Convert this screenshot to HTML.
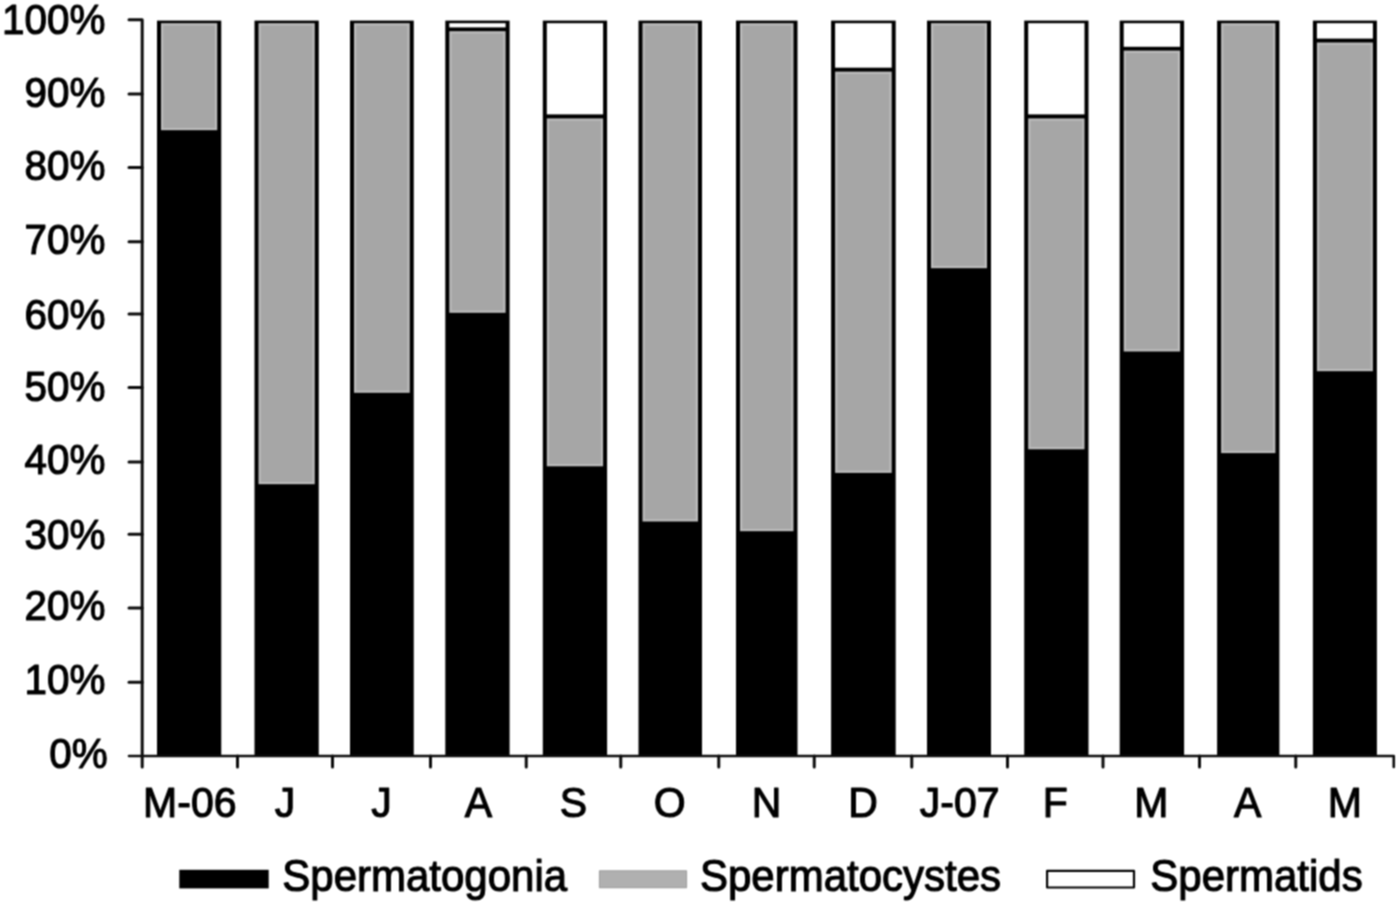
<!DOCTYPE html>
<html><head><meta charset="utf-8"><title>Chart</title>
<style>html,body{margin:0;padding:0;background:#fff;overflow:hidden}svg{display:block}</style>
</head><body>
<svg width="1400" height="905" viewBox="0 0 1400 905">
<defs><filter id="soft" filterUnits="userSpaceOnUse" x="0" y="0" width="1400" height="905" color-interpolation-filters="sRGB"><feConvolveMatrix order="3" kernelMatrix="1 2 1 2 4 2 1 2 1" divisor="16" edgeMode="duplicate" preserveAlpha="false"/></filter></defs>
<rect width="1400" height="905" fill="#fff"/>
<g filter="url(#soft)">
<rect x="157" y="20.6" width="64.25" height="736.00" fill="#000"/>
<rect x="161.00" y="23.2" width="56.25" height="107.00" fill="#bbbbbb"/>
<rect x="163.30" y="25.50" width="51.65" height="102.40" fill="#a6a6a6"/>
<rect x="254.5" y="20.6" width="64.25" height="736.00" fill="#000"/>
<rect x="258.50" y="23.2" width="56.25" height="461.00" fill="#bbbbbb"/>
<rect x="260.80" y="25.50" width="51.65" height="456.40" fill="#a6a6a6"/>
<rect x="350" y="20.6" width="63.75" height="736.00" fill="#000"/>
<rect x="354.00" y="23.2" width="55.75" height="369.60" fill="#bbbbbb"/>
<rect x="356.30" y="25.50" width="51.15" height="365.00" fill="#a6a6a6"/>
<rect x="445.3" y="20.6" width="64.30" height="736.00" fill="#000"/>
<rect x="449.30" y="23.2" width="56.30" height="4.20" fill="#fff"/>
<rect x="449.30" y="31.2" width="56.30" height="281.60" fill="#bbbbbb"/>
<rect x="451.60" y="33.50" width="51.70" height="277.00" fill="#a6a6a6"/>
<rect x="542.8" y="20.6" width="64.30" height="736.00" fill="#000"/>
<rect x="546.80" y="23.2" width="56.30" height="91.20" fill="#fff"/>
<rect x="546.80" y="118.4" width="56.30" height="347.90" fill="#bbbbbb"/>
<rect x="549.10" y="120.70" width="51.70" height="343.30" fill="#a6a6a6"/>
<rect x="638.5" y="20.6" width="63.50" height="736.00" fill="#000"/>
<rect x="642.50" y="23.2" width="55.50" height="498.30" fill="#bbbbbb"/>
<rect x="644.80" y="25.50" width="50.90" height="493.70" fill="#a6a6a6"/>
<rect x="736" y="20.6" width="61.50" height="736.00" fill="#000"/>
<rect x="740.00" y="23.2" width="53.50" height="508.00" fill="#bbbbbb"/>
<rect x="742.30" y="25.50" width="48.90" height="503.40" fill="#a6a6a6"/>
<rect x="831.1" y="20.6" width="64.60" height="736.00" fill="#000"/>
<rect x="835.10" y="23.2" width="56.60" height="44.50" fill="#fff"/>
<rect x="835.10" y="71.6" width="56.60" height="401.30" fill="#bbbbbb"/>
<rect x="837.40" y="73.90" width="52.00" height="396.70" fill="#a6a6a6"/>
<rect x="927" y="20.6" width="64.00" height="736.00" fill="#000"/>
<rect x="931.00" y="23.2" width="56.00" height="245.00" fill="#bbbbbb"/>
<rect x="933.30" y="25.50" width="51.40" height="240.40" fill="#a6a6a6"/>
<rect x="1024.2" y="20.6" width="64.30" height="736.00" fill="#000"/>
<rect x="1028.20" y="23.2" width="56.30" height="91.20" fill="#fff"/>
<rect x="1028.20" y="118.4" width="56.30" height="330.90" fill="#bbbbbb"/>
<rect x="1030.50" y="120.70" width="51.70" height="326.30" fill="#a6a6a6"/>
<rect x="1119.7" y="20.6" width="64.40" height="736.00" fill="#000"/>
<rect x="1123.70" y="23.2" width="56.40" height="23.60" fill="#fff"/>
<rect x="1123.70" y="50.6" width="56.40" height="300.90" fill="#bbbbbb"/>
<rect x="1126.00" y="52.90" width="51.80" height="296.30" fill="#a6a6a6"/>
<rect x="1217.1" y="20.6" width="62.30" height="736.00" fill="#000"/>
<rect x="1221.10" y="23.2" width="54.30" height="429.90" fill="#bbbbbb"/>
<rect x="1223.40" y="25.50" width="49.70" height="425.30" fill="#a6a6a6"/>
<rect x="1312.9" y="20.6" width="64.00" height="736.00" fill="#000"/>
<rect x="1316.90" y="23.2" width="56.00" height="15.40" fill="#fff"/>
<rect x="1316.90" y="42.5" width="56.00" height="328.70" fill="#bbbbbb"/>
<rect x="1319.20" y="44.80" width="51.40" height="324.10" fill="#a6a6a6"/>
<g stroke="#0c0c0c" stroke-width="3" fill="none" stroke-linecap="round" stroke-linejoin="round">
<path d="M129 19.8 H142.2 V767"/>
<path d="M129 756.0 H1393.75 V767" stroke-width="2.6"/>
<path d="M129 94.0 H142.2"/>
<path d="M129 167.6 H142.2"/>
<path d="M129 241.8 H142.2"/>
<path d="M129 314.0 H142.2"/>
<path d="M129 387.6 H142.2"/>
<path d="M129 462.1 H142.2"/>
<path d="M129 534.2 H142.2"/>
<path d="M129 607.9 H142.2"/>
<path d="M129 682.2 H142.2"/>
<path d="M237.5 756 V767"/>
<path d="M332.5 756 V767"/>
<path d="M430.5 756 V767"/>
<path d="M526.25 756 V767"/>
<path d="M620.75 756 V767"/>
<path d="M718.75 756 V767"/>
<path d="M814.25 756 V767"/>
<path d="M911.75 756 V767"/>
<path d="M1007.5 756 V767"/>
<path d="M1103 756 V767"/>
<path d="M1199.5 756 V767"/>
<path d="M1295.75 756 V767"/>
</g>
<g font-family="'Liberation Sans', sans-serif" font-size="41" fill="#000" stroke="#000" stroke-width="1.1" stroke-linejoin="round">
<text transform="translate(105.4 33.8) scale(1 1.03)" text-anchor="end" font-size="40.4">100%</text>
<text transform="translate(105.4 106.7) scale(1 1.03)" text-anchor="end" font-size="40.4">90%</text>
<text transform="translate(105.4 180.3) scale(1 1.03)" text-anchor="end" font-size="40.4">80%</text>
<text transform="translate(105.4 254.1) scale(1 1.03)" text-anchor="end" font-size="40.4">70%</text>
<text transform="translate(105.4 328.5) scale(1 1.03)" text-anchor="end" font-size="40.4">60%</text>
<text transform="translate(105.4 400.5) scale(1 1.03)" text-anchor="end" font-size="40.4">50%</text>
<text transform="translate(105.4 474.1) scale(1 1.03)" text-anchor="end" font-size="40.4">40%</text>
<text transform="translate(105.4 548.5) scale(1 1.03)" text-anchor="end" font-size="40.4">30%</text>
<text transform="translate(105.4 620.3) scale(1 1.03)" text-anchor="end" font-size="40.4">20%</text>
<text transform="translate(105.4 694.1) scale(1 1.03)" text-anchor="end" font-size="40.4">10%</text>
<text transform="translate(107.6 768.2) scale(1 1.03)" text-anchor="end" font-size="40.4">0%</text>
<text transform="translate(189.8 817.2) scale(1 1.03)" text-anchor="middle">M-06</text>
<text transform="translate(285.0 817.2) scale(1 1.03)" text-anchor="middle">J</text>
<text transform="translate(381.5 817.2) scale(1 1.03)" text-anchor="middle">J</text>
<text transform="translate(478.4 817.2) scale(1 1.03)" text-anchor="middle">A</text>
<text transform="translate(573.5 817.2) scale(1 1.03)" text-anchor="middle">S</text>
<text transform="translate(669.8 817.2) scale(1 1.03)" text-anchor="middle">O</text>
<text transform="translate(766.5 817.2) scale(1 1.03)" text-anchor="middle">N</text>
<text transform="translate(863.0 817.2) scale(1 1.03)" text-anchor="middle">D</text>
<text transform="translate(959.6 817.2) scale(1 1.03)" text-anchor="middle">J-07</text>
<text transform="translate(1055.2 817.2) scale(1 1.03)" text-anchor="middle">F</text>
<text transform="translate(1151.2 817.2) scale(1 1.03)" text-anchor="middle">M</text>
<text transform="translate(1247.6 817.2) scale(1 1.03)" text-anchor="middle">A</text>
<text transform="translate(1344.8 817.2) scale(1 1.03)" text-anchor="middle">M</text>
<rect x="179.3" y="869.8" width="89.4" height="18.6" fill="#000" stroke="none"/>
<text transform="translate(282.3 891.4) scale(1 1.06)" font-size="42">Spermatogonia</text>
<rect x="599.5" y="870.8" width="87" height="16.8" fill="#b0b0b0" stroke="#a2a2a2" stroke-width="1.2"/>
<text transform="translate(700.0 891.4) scale(1 1.06)" font-size="42">Spermatocystes</text>
<rect x="1047.1" y="870.8" width="86.9" height="16.7" fill="#fff" stroke="#000" stroke-width="2.2" stroke-linejoin="round"/>
<text transform="translate(1150.3 891.4) scale(1 1.06)" font-size="42">Spermatids</text>
</g>
</g>
</svg>
</body></html>
